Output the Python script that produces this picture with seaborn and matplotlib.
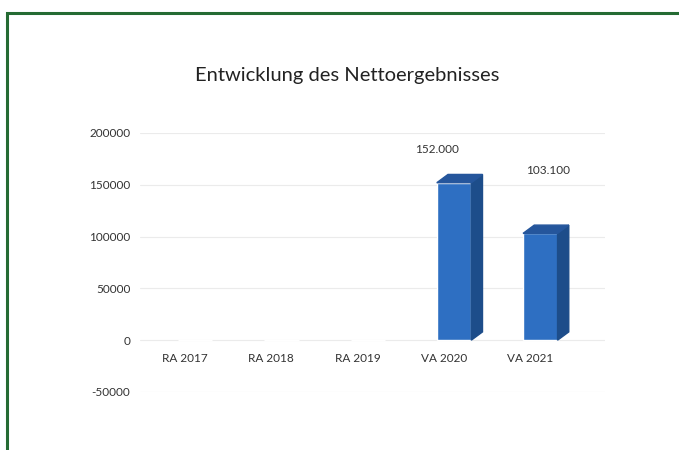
import numpy as np
import matplotlib.pyplot as plt
import seaborn as sns
from matplotlib.patches import Polygon, Rectangle

# %% Data
categories = ["RA 2017", "RA 2018", "RA 2019", "VA 2020", "VA 2021"]
values = [0, 0, 0, 152000, 103100]
value_labels = ["", "", "", "152.000", "103.100"]
yticks = [-50000, 0, 50000, 100000, 150000, 200000]

# %% Plot
sns.set_style("white")
plt.rcParams['font.family'] = ['Lato', 'DejaVu Sans']

fig = plt.figure(figsize=(6.79, 4.5), dpi=100)
ax = fig.add_axes([140 / 679, 1 - 392 / 450, 465 / 679, 259 / 450])

sns.barplot(x=categories, y=values, color='#2e6fc2', saturation=1,
            width=0.4, ax=ax, zorder=3)

# fake 3D side and top faces
dx, dy = 0.13, 8000
for p in ax.patches:
    x0, w, h = p.get_x(), p.get_width(), p.get_height()
    if h <= 0:
        continue
    side = [(x0 + w, 0), (x0 + w + dx, dy), (x0 + w + dx, h + dy), (x0 + w, h)]
    top = [(x0, h), (x0 + w, h), (x0 + w + dx, h + dy), (x0 + dx, h + dy)]
    ax.add_patch(Polygon(side, closed=True, color='#1d4d8a', zorder=3))
    ax.add_patch(Polygon(top, closed=True, color='#25569c', zorder=3))

# value labels (Excel puts them a bit oddly)
offsets = {3: (-17, 33), 4: (8, 63)}
for i, lab in enumerate(value_labels):
    if lab:
        ox, oy = offsets[i]
        ax.annotate(lab, (i, values[i]), xytext=(ox, oy), textcoords='offset pixels',
                    ha='center', va='center', fontsize=8.5, color='#333333')

ax.set_ylim(-50000, 200000)
ax.set_xlim(-0.64, 4.75)
ax.set_yticks(yticks)
ax.set_yticklabels([str(t) for t in yticks])
ax.set_xticks(np.arange(len(categories)) - 0.12)
ax.set_xticklabels(categories)
ax.grid(axis='y', color='#ebebeb', linewidth=0.8, zorder=0)

ax.spines['bottom'].set_position(('data', 0))
for s in ax.spines.values():
    s.set_visible(False)
ax.tick_params(axis='x', length=0, pad=9, labelsize=8.5, labelcolor='#333333')
ax.tick_params(axis='y', length=0, pad=7, labelsize=8.5, labelcolor='#333333')
ax.set_xlabel("")
ax.set_ylabel("")

fig.text(347 / 679, 1 - 75 / 450, "Entwicklung des Nettoergebnisses",
         ha='center', va='center', fontsize=14.5, color='#222222')

# green frame of the scanned chart box
fig.patches.append(Rectangle((7 / 679, -0.05), 1.05, 1 - 13 / 450 + 0.05,
                             transform=fig.transFigure, fill=False,
                             edgecolor='#256b33', linewidth=2.2))

plt.savefig("out.png", dpi=100)
